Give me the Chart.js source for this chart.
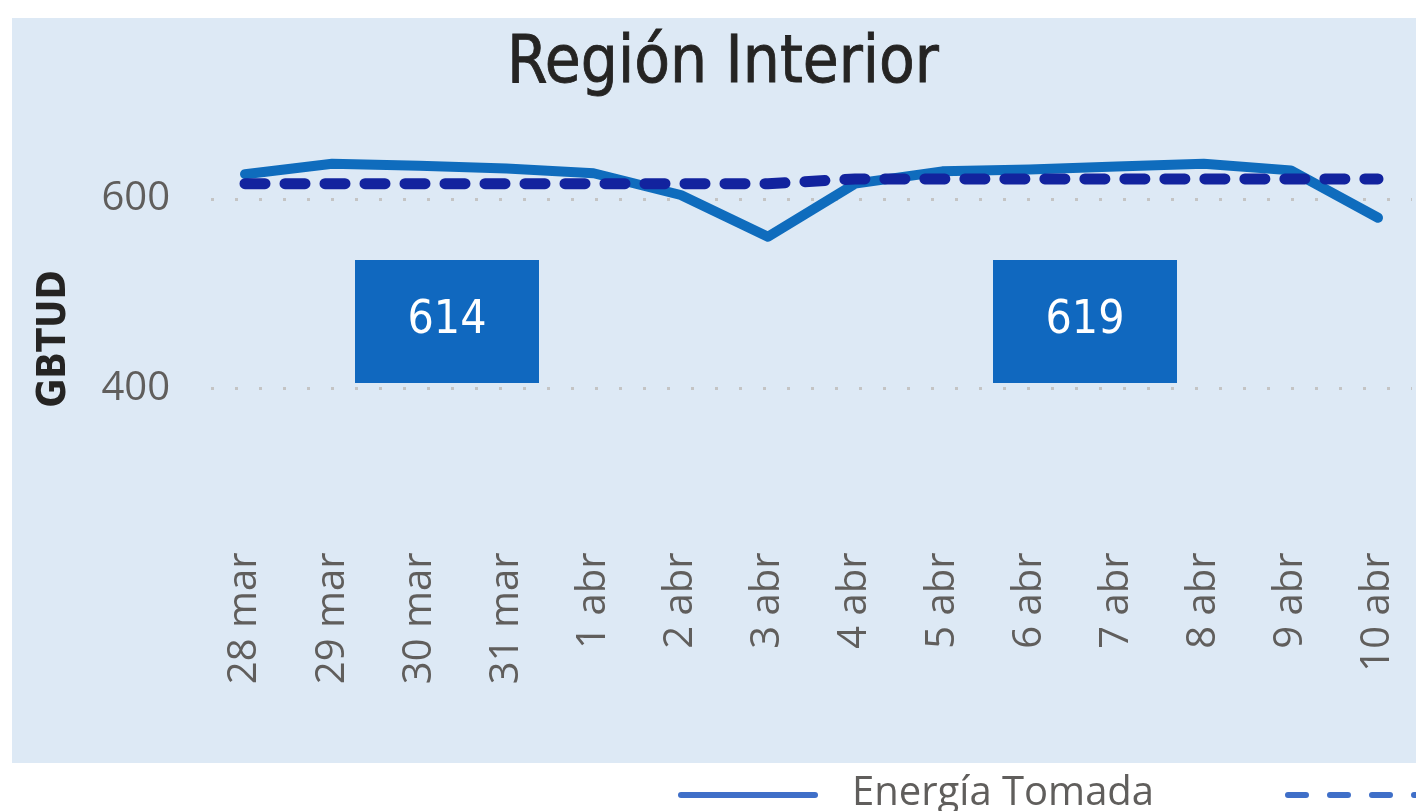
<!DOCTYPE html>
<html>
<head>
<meta charset="utf-8">
<script src="https://cdn.jsdelivr.net/npm/chart.js@4.4.1/dist/chart.umd.min.js"></script>
<style>
  html, body { margin: 0; padding: 0; background: #ffffff; }
  #wrap { width: 1416px; height: 811px; position: relative; }
  canvas { display: block; }
</style>
</head>
<body>
<div id="wrap"><canvas id="c" width="1416" height="811"></canvas></div>
<script>
// ---- data ----
const categories = ['28 mar', '29 mar', '30 mar', '31 mar', '1 abr', '2 abr', '3 abr',
                    '4 abr', '5 abr', '6 abr', '7 abr', '8 abr', '9 abr', '10 abr'];
const energiaTomada = [626, 637, 635, 632, 627, 604, 560, 616, 629, 631, 634, 637, 630, 580];
const promedio      = [616, 616, 616, 616, 616, 616, 616, 621, 621, 621, 621, 621, 621, 621];
const yTicks = [400, 600];
const boxLabels = ['614', '619'];
const titleText = 'Región Interior';
const yAxisTitle = 'GBTUD';
const legendLabels = ['Energía Tomada'];

// ---- styling ----
const PANEL_BG = '#DDE9F5';
const GRID_COLOR = '#C4C4C4';
const TEXT_GRAY = '#605E5C';
const SOLID_BLUE = '#0F6CBD';
const DASH_BLUE = '#12239E';
const BOX_BLUE = '#1068BF';
const LEGEND_BLUE = '#3F6FC8';

const decorPlugin = {
  id: 'decor',
  beforeDraw(chart) {
    const ctx = chart.ctx;
    ctx.save();
    ctx.fillStyle = '#ffffff';
    ctx.fillRect(0, 0, chart.width, chart.height);
    ctx.fillStyle = PANEL_BG;
    ctx.fillRect(12, 18, chart.width - 12, 763 - 18);

    // dotted gridlines
    const y = chart.scales.y;
    ctx.strokeStyle = GRID_COLOR;
    ctx.lineWidth = 3;
    ctx.setLineDash([3, 21]);
    yTicks.forEach(v => {
      const py = Math.round(y.getPixelForValue(v)) + 0.5;
      ctx.beginPath();
      ctx.moveTo(211, py);
      ctx.lineTo(1412, py);
      ctx.stroke();
    });
    ctx.setLineDash([]);

    // title
    ctx.fillStyle = '#252423';
    ctx.strokeStyle = '#252423';
    ctx.lineWidth = 0.8;
    ctx.font = '65px "DejaVu Sans Condensed", "DejaVu Sans", sans-serif';
    ctx.textAlign = 'center';
    ctx.textBaseline = 'alphabetic';
    ctx.fillText(titleText, 723, 82);
    ctx.strokeText(titleText, 723, 82);

    // y axis title
    ctx.save();
    ctx.translate(65, 339);
    ctx.rotate(-Math.PI / 2);
    ctx.font = 'bold 39px "DejaVu Sans Condensed", "DejaVu Sans", sans-serif';
    ctx.fillStyle = '#252423';
    ctx.textAlign = 'center';
    ctx.textBaseline = 'alphabetic';
    ctx.fillText(yAxisTitle, 0, 0);
    ctx.restore();

    // legend (below the panel)
    ctx.lineCap = 'round';
    ctx.strokeStyle = LEGEND_BLUE;
    ctx.lineWidth = 6;
    ctx.beginPath();
    ctx.moveTo(681, 795);
    ctx.lineTo(815, 795);
    ctx.stroke();
    ctx.fillStyle = TEXT_GRAY;
    ctx.font = '40px "Open Sans", sans-serif';
    ctx.textAlign = 'left';
    ctx.fillText(legendLabels[0], 852, 805);
    ctx.setLineDash([18, 24]);
    ctx.beginPath();
    ctx.moveTo(1288, 795);
    ctx.lineTo(1430, 795);
    ctx.stroke();
    ctx.setLineDash([]);
    ctx.restore();
  },
  afterDatasetsDraw(chart) {
    const ctx = chart.ctx;
    ctx.save();
    const boxes = [
      { x: 355, label: boxLabels[0] },
      { x: 993, label: boxLabels[1] }
    ];
    boxes.forEach(b => {
      ctx.fillStyle = BOX_BLUE;
      ctx.fillRect(b.x, 260, 184, 123);
      ctx.fillStyle = '#ffffff';
      ctx.font = '46px "DejaVu Sans Condensed", "DejaVu Sans", sans-serif';
      ctx.textAlign = 'center';
      ctx.textBaseline = 'alphabetic';
      ctx.fillText(b.label, b.x + 92, 333);
    });
    ctx.restore();
  }
};

new Chart(document.getElementById('c'), {
  type: 'line',
  data: {
    labels: categories,
    datasets: [
      {
        label: 'Energía Tomada',
        data: energiaTomada,
        borderColor: SOLID_BLUE,
        backgroundColor: SOLID_BLUE,
        borderWidth: 10,
        pointRadius: 0,
        tension: 0,
        borderCapStyle: 'round',
        borderJoinStyle: 'round',
        clip: false,
        order: 1
      },
      {
        label: 'Promedio',
        data: promedio,
        borderColor: DASH_BLUE,
        backgroundColor: DASH_BLUE,
        borderWidth: 11,
        borderDash: [20, 20],
        pointRadius: 0,
        tension: 0,
        borderCapStyle: 'round',
        borderJoinStyle: 'round',
        clip: false,
        order: 0
      }
    ]
  },
  options: {
    responsive: false,
    animation: false,
    devicePixelRatio: 1,
    layout: { padding: { top: 123, right: 38, left: 0, bottom: 0 } },
    plugins: {
      legend: { display: false },
      title: { display: false },
      tooltip: { enabled: false }
    },
    scales: {
      x: {
        offset: false,
        grid: { display: false, drawTicks: false, tickLength: 0 },
        border: { display: false },
        ticks: {
          color: TEXT_GRAY,
          font: { family: '"Open Sans", sans-serif', size: 40 },
          minRotation: 90,
          maxRotation: 90,
          autoSkip: false,
          padding: 22
        },
        afterFit(scale) {
          scale.height = 811 - 530.5;
          scale.paddingLeft = 0;
          scale.paddingRight = 0;
        }
      },
      y: {
        min: 250,
        max: 680,
        grid: { display: false, drawTicks: false, tickLength: 0 },
        border: { display: false },
        ticks: {
          color: TEXT_GRAY,
          font: { family: '"Open Sans", sans-serif', size: 40 },
          padding: 75
        },
        afterBuildTicks(scale) { scale.ticks = yTicks.map(v => ({ value: v })); },
        afterFit(scale) {
          scale.width = 245;
          scale.paddingTop = 0;
          scale.paddingBottom = 0;
        }
      }
    }
  },
  plugins: [decorPlugin]
});
</script>
</body>
</html>
